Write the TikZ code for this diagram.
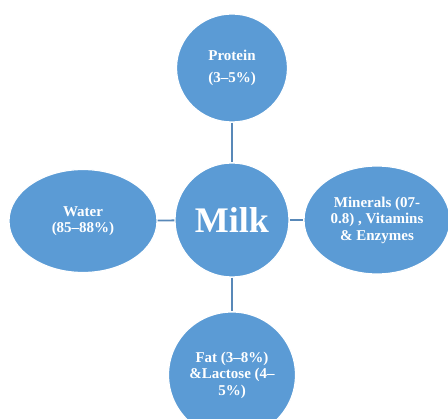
\documentclass[tikz,border=0pt]{standalone}
\usepackage{fontspec}
\setmainfont{Liberation Serif}
\usepackage{xcolor}
\definecolor{bubble}{RGB}{91,155,213}
\definecolor{link}{RGB}{88,136,184}
\usepackage{tikz}
\usetikzlibrary{shapes.geometric,positioning}

\begin{document}
\begin{tikzpicture}[x=1pt,y=-1pt,
                    every node/.style={font=\bfseries\fontsize{15}{16.5}\selectfont,
                                       text=white, align=center},
                    part/.style={ellipse, fill=bubble, draw=white, line width=1.2pt, inner sep=0pt},
                    link/.style={draw=link, line width=1.8pt}]
    \useasboundingbox (0,0) rectangle (448,419);
    \clip (0,0) rectangle (448,419);
    % centre and the four parts
    \node[part, minimum width=114, minimum height=114,
          font=\bfseries\fontsize{36}{40}\selectfont] (milk) at (232,220) {Milk};
    \node[part, minimum width=111, minimum height=108] (protein) at (232,68)
        {Protein\\[6pt](3--5\%)};
    \node[part, minimum width=148, minimum height=103] (water) at (83,221)
        {Water\\(85--88\%)};
    \node[part, minimum width=146, minimum height=108] (minerals) at (377,220)
        {Minerals (07-\\0.8) , Vitamins\\\& Enzymes};
    \node[part, minimum width=127, minimum height=126] (fat) at (232,375)
        {Fat (3--8\%)\\\&Lactose (4--\\5\%)};
    % connectors
    \draw[link] (protein) -- (milk);
    \draw[link] (water) -- (milk);
    \draw[link] (milk) -- (minerals);
    \draw[link] (milk) -- (fat);
\end{tikzpicture}
\end{document}
